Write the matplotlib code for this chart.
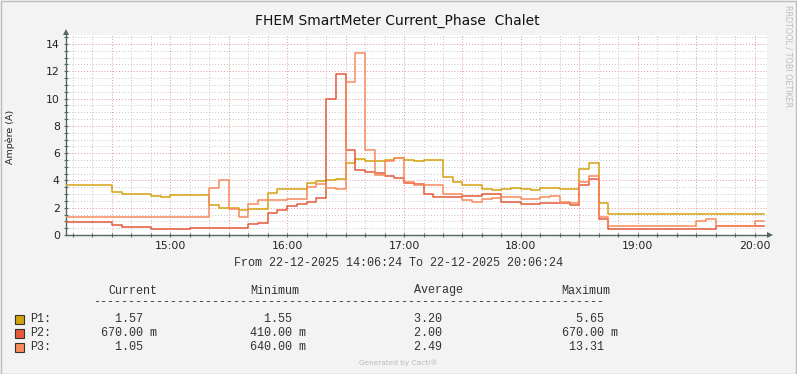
import datetime as dt

import matplotlib
matplotlib.use("Agg")
import matplotlib.pyplot as plt
import matplotlib.dates as mdates
from matplotlib.ticker import MultipleLocator, FuncFormatter
from matplotlib.patches import Rectangle, Polygon

# Time window of the graph
DAY = "2025-12-22"
START = "14:06:24"
END = "20:06:24"
LAST = "20:05"

# Step changes per phase (time where a new 5 min value starts, value in A)
p1_times = ["14:05", "14:30", "14:35", "14:50", "14:55", "15:00", "15:20", "15:25", "15:35", "15:40",
            "15:50", "15:55", "16:10", "16:15", "16:20", "16:25", "16:30", "16:35", "16:40", "16:50",
            "16:55", "17:00", "17:05", "17:10", "17:20", "17:25", "17:30", "17:40", "17:45", "17:50",
            "17:55", "18:00", "18:05", "18:10", "18:15", "18:20", "18:30", "18:35", "18:40", "18:45"]
p1_vals = [3.67, 3.13, 3.0, 2.83, 2.76, 2.9, 2.2, 1.96, 1.83, 1.9,
           3.05, 3.35, 3.79, 3.98, 4.03, 4.08, 5.25, 5.57, 5.42, 5.5,
           5.65, 5.5, 5.42, 5.5, 4.28, 3.86, 3.67, 3.35, 3.3, 3.37,
           3.42, 3.35, 3.3, 3.42, 3.47, 3.35, 4.87, 5.3, 2.37, 1.55]

p2_times = ["14:05", "14:30", "14:35", "14:50", "15:10", "15:40", "15:45", "15:50", "15:55", "16:00",
            "16:05", "16:10", "16:15", "16:20", "16:25", "16:30", "16:35", "16:40", "16:45", "16:50",
            "16:55", "17:00", "17:05", "17:10", "17:15", "17:30", "17:40", "17:50", "18:00", "18:10",
            "18:20", "18:25", "18:30", "18:35", "18:40", "18:45", "19:40"]
p2_vals = [0.95, 0.71, 0.61, 0.42, 0.49, 0.78, 0.86, 1.64, 1.83, 2.13,
           2.27, 2.45, 2.7, 9.97, 11.8, 6.23, 4.77, 4.65, 4.55, 4.3,
           4.2, 3.84, 3.74, 3.0, 2.76, 2.86, 2.98, 2.44, 2.27, 2.37,
           2.32, 2.2, 3.7, 4.1, 1.17, 0.41, 0.67]

p3_times = ["14:05", "15:20", "15:25", "15:30", "15:35", "15:40", "15:45", "16:00", "16:10", "16:15",
            "16:20", "16:25", "16:30", "16:35", "16:40", "16:45", "16:50", "16:55", "17:00", "17:05",
            "17:20", "17:30", "17:35", "17:40", "17:45", "17:50", "18:00", "18:10", "18:15", "18:20",
            "18:25", "18:30", "18:35", "18:40", "18:45", "19:30", "19:35", "19:40", "20:00"]
p3_vals = [1.3, 3.42, 4.01, 1.88, 1.3, 2.27, 2.57, 2.61, 3.54, 3.74,
           3.42, 3.35, 11.24, 13.31, 6.23, 4.4, 5.42, 5.62, 3.91, 3.67,
           3.0, 2.57, 2.44, 2.64, 2.69, 2.76, 2.67, 2.76, 2.86, 2.44,
           2.32, 3.86, 4.33, 1.34, 0.64, 1.03, 1.17, 0.64, 1.05]

series_names = ["P1", "P2", "P3"]
series_colors = ["#D4A20F", "#E65A3A", "#F98A5C"]

# Legend statistics
stat_headers = ["Current", "Minimum", "Average", "Maximum"]
stat_current = [1.57, 0.67, 1.05]
stat_minimum = [1.55, 0.41, 0.64]
stat_average = [3.20, 2.00, 2.49]
stat_maximum = [5.65, 0.67, 13.31]

W, H = 797, 374
BG = "#F3F3F3"
AXIS_COL = "#52695F"
MONO = "Liberation Mono"


def to_dt(s):
    if s.count(":") == 1:
        s += ":00"
    return dt.datetime.strptime(DAY + " " + s, "%Y-%m-%d %H:%M:%S")


def si(v):
    # rrdtool style "%8.2lf %s"
    if v < 1:
        return "%8.2f" % (v * 1000), "m"
    return "%8.2f" % v, ""


fig = plt.figure(figsize=(W / 100, H / 100), dpi=100, facecolor=BG)

# pixel overlay for texts / legend
ov = fig.add_axes([0, 0, 1, 1], zorder=0)
ov.set_xlim(0, W)
ov.set_ylim(H, 0)
ov.axis("off")
ov.add_patch(Rectangle((0.5, 0.5), W - 1, H - 1, fill=False, edgecolor="#BDBDBD", lw=1))

# Plot area
ax = fig.add_axes([66 / W, (H - 235) / H, (767 - 66) / W, 200 / H], zorder=1)
ax.set_facecolor("white")

for times, vals, col in zip([p1_times, p2_times, p3_times], [p1_vals, p2_vals, p3_vals], series_colors):
    x = [to_dt(t) for t in times] + [to_dt(LAST)]
    y = list(vals) + [vals[-1]]
    ax.plot(x, y, drawstyle="steps-post", color=col, lw=1.1, zorder=3)

ax.set_xlim(to_dt(START), to_dt(END))
ax.set_ylim(0, 14.66)

ax.xaxis.set_major_locator(mdates.MinuteLocator(byminute=[0, 30]))
ax.xaxis.set_minor_locator(mdates.MinuteLocator(byminute=range(0, 60, 10)))
ax.xaxis.set_major_formatter(FuncFormatter(
    lambda v, p: mdates.num2date(v).strftime("%H:%M") if mdates.num2date(v).minute == 0 else ""))
ax.yaxis.set_major_locator(MultipleLocator(2))
ax.yaxis.set_minor_locator(MultipleLocator(0.5))

ax.grid(which="major", color="#E89494", linestyle=(0, (1, 2)), lw=0.7)
ax.grid(which="minor", color="#C4C4C4", linestyle=(0, (1, 2)), lw=0.7)
ax.set_axisbelow(True)

for s in ["top", "right"]:
    ax.spines[s].set_visible(False)
for s in ["left", "bottom"]:
    ax.spines[s].set_color(AXIS_COL)
    ax.spines[s].set_linewidth(1.0)

ax.tick_params(which="both", direction="inout", length=3, width=0.8, color=AXIS_COL,
               labelsize=7.8, labelcolor="#222222", pad=3)

# axis arrows
ov.add_patch(Polygon([[767, 232], [767, 238], [773, 235]], closed=True, color=AXIS_COL, lw=0))
ov.add_patch(Polygon([[63, 35], [69, 35], [66, 29]], closed=True, color=AXIS_COL, lw=0))

# Titles
ov.text(397.5, 21, "FHEM SmartMeter Current_Phase  Chalet", ha="center", va="center",
        fontsize=10, color="#111111")
ov.text(10, 137, "Ampère (A)", ha="center", va="center", rotation=90, fontsize=6.8, color="#222222")
ov.text(788, 56, "RRDTOOL / TOBI OETIKER", ha="center", va="center", rotation=270,
        fontsize=5.8, color="#BDBDBD")
ov.text(398, 363, "Generated by Cacti®", ha="center", va="center", fontsize=5.3, color="#BBBBBB")

# Legend (monospace columns)
CW = 7.12
X0 = 30
TXT = "#333333"
ov.text(398.5, 263, "From 22-12-2025 14:06:24 To 22-12-2025 20:06:24", ha="center", va="center",
        family=MONO, fontsize=8.5, color=TXT)
for name, idx in zip(stat_headers, [11, 31, 54, 74.6]):
    ov.text(X0 + idx * CW, 290.5, name, ha="left", va="center", family=MONO, fontsize=8.5, color=TXT)
ov.text(X0 + 8.9 * CW, 302.5, "-" * 73, ha="left", va="center", family=MONO, fontsize=8.5, color=TXT)

col_ends = [15, 36, 57, 79.7]
row_y = [319, 333, 347]
for i, name in enumerate(series_names):
    y = row_y[i]
    ov.add_patch(Rectangle((15.5, y - 4.5), 9, 9, facecolor=series_colors[i], edgecolor="#333333", lw=0.8))
    ov.text(X0, y, name + ":", ha="left", va="center", family=MONO, fontsize=8.5, color=TXT)
    for vals, end in zip([stat_current, stat_minimum, stat_average, stat_maximum], col_ends):
        num, unit = si(vals[i])
        s = num + " " + unit
        ov.text(X0 + (end - 7) * CW, y, s, ha="left", va="center", family=MONO, fontsize=8.5, color=TXT)

fig.savefig("out.png", dpi=100, facecolor=BG)
